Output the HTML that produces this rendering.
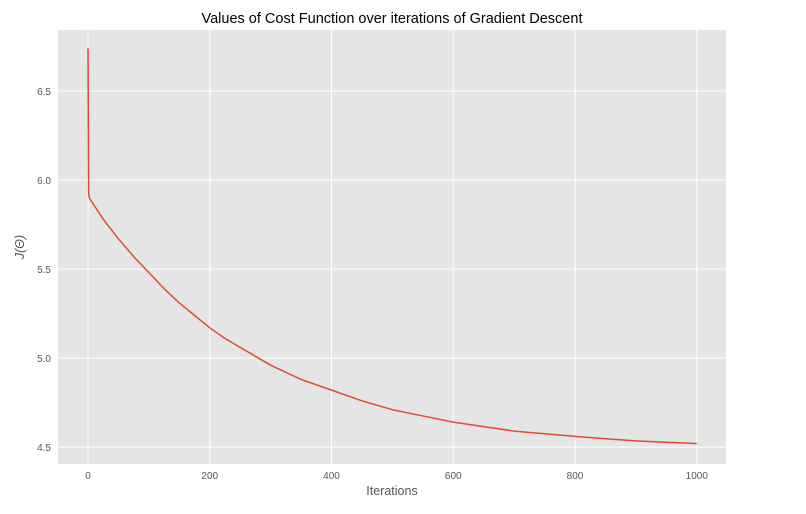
<!DOCTYPE html>
<html><head><meta charset="utf-8"><style>
body{margin:0;background:#fff;width:806px;height:509px;overflow:hidden;font-family:"Liberation Sans","DejaVu Sans",sans-serif}
</style></head><body>
<svg id="chart" width="806" height="509" xmlns="http://www.w3.org/2000/svg">
<text x="392" y="23" text-anchor="middle" font-size="14.5" fill="#000">Values of Cost Function over iterations of Gradient Descent</text>
<rect x="58" y="30" width="668" height="434" fill="#e5e5e5"/>
<g id="grid"></g><g id="ticks"></g><g id="series"></g>
<text x="392" y="495" text-anchor="middle" font-size="12.5" fill="#555">Iterations</text>
<text transform="translate(24,247) rotate(-90)" text-anchor="middle" font-size="12.5" fill="#555" font-style="italic">J(Θ)</text>
</svg>
<script>
const iterations=[0,1,2,25,50,75,100,125,150,175,200,225,250,275,300,350,400,450,500,550,600,650,700,750,800,850,900,950,1000];
const costs=[6.74,5.93,5.90,5.78,5.67,5.57,5.48,5.39,5.31,5.24,5.17,5.11,5.06,5.01,4.96,4.88,4.82,4.76,4.71,4.675,4.64,4.615,4.59,4.575,4.56,4.547,4.535,4.527,4.52];
const xTicks=[0,200,400,600,800,1000];
const yTicks=[4.5,5.0,5.5,6.0,6.5];
const yTickLabels=["4.5","5.0","5.5","6.0","6.5"];
const NS="http://www.w3.org/2000/svg";
const X0=58,X1=726,Y0=30,Y1=464,xmin=-49.3,xmax=1048,ymin=4.405,ymax=6.843;
function sx(v){return X0+(v-xmin)/(xmax-xmin)*(X1-X0);}
function sy(v){return Y1-(v-ymin)/(ymax-ymin)*(Y1-Y0);}
function mk(t,a,p){const e=document.createElementNS(NS,t);for(const k in a)e.setAttribute(k,a[k]);p.appendChild(e);return e;}
const grid=document.getElementById('grid'),ticks=document.getElementById('ticks'),series=document.getElementById('series');
xTicks.forEach(v=>{
 const l=mk('line',{x1:sx(v),x2:sx(v),y1:Y0,y2:Y1,stroke:'#fff','stroke-width':1},grid);
 
 
 const t=mk('text',{x:sx(v),y:Y1+15,'text-anchor':'middle','font-size':10,fill:'#555'},ticks);
 t.textContent=String(v);
 
 
});
yTicks.forEach((v,i)=>{
 const l=mk('line',{x1:X0,x2:X1,y1:sy(v),y2:sy(v),stroke:'#fff','stroke-width':1},grid);
 
 
 const t=mk('text',{x:X0-7,y:sy(v)+4,'text-anchor':'end','font-size':10,fill:'#555'},ticks);
 t.textContent=yTickLabels[i];
 
 
});
const pts=iterations.map((v,i)=>sx(v).toFixed(2)+','+sy(costs[i]).toFixed(2)).join(' ');
const pl=mk('polyline',{points:pts,fill:'none',stroke:'#e24a33','stroke-width':1.5,'stroke-linejoin':'round'},series);


</script>
</body></html>
